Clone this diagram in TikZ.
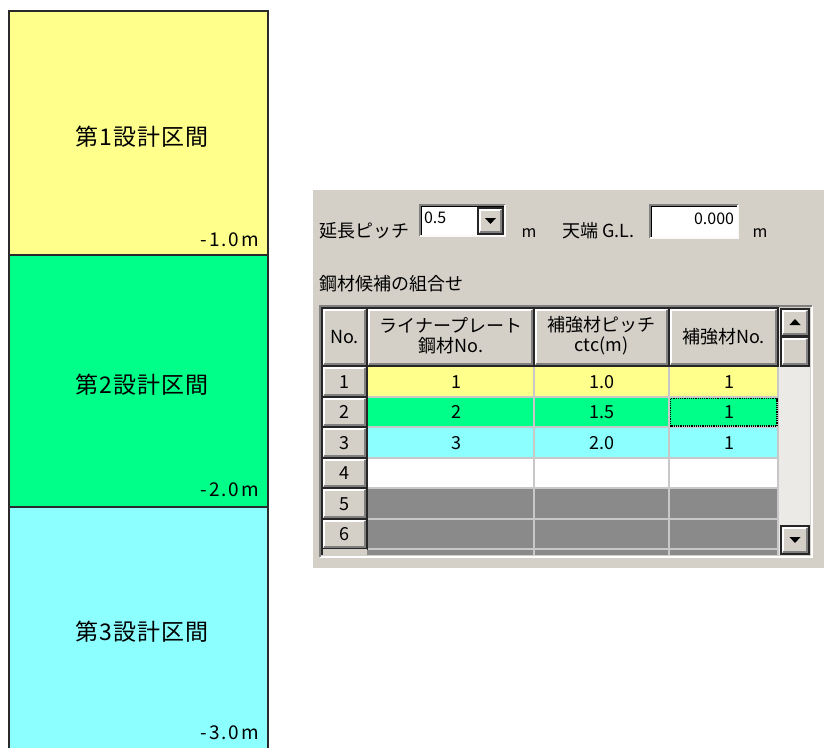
\documentclass[tikz,border=0pt]{standalone}
\usepackage{fontspec}
\setmainfont{Noto Sans CJK JP}
\definecolor{panel}{HTML}{D4D0C8}
\definecolor{yel}{HTML}{FFFF8C}
\definecolor{grn}{HTML}{00FF88}
\definecolor{cyn}{HTML}{8CFFFF}
\definecolor{dgray}{HTML}{8A8A8A}
\definecolor{gridc}{HTML}{C8C8C8}
\definecolor{track}{HTML}{ECEAE6}
\definecolor{colline}{HTML}{2A2A2A}
\newcommand{\uif}{\fontsize{18}{21}\selectfont}
\newcommand{\secf}{\fontsize{23}{26}\selectfont\addfontfeatures{LetterSpace=4}}
\newcommand{\depf}{\fontsize{19}{21}\selectfont\addfontfeatures{LetterSpace=10}}
\newcommand{\mybtn}[4]{%
  \fill[panel] (#1,#2) rectangle (#3,#4);
  \draw[white, line width=1.5] (#1+2,#4-2) -- (#1+2,#2+2) -- (#3-2,#2+2);
  \draw[gray, line width=1.2] (#1+2,#4-2) -- (#3-2,#4-2) -- (#3-2,#2+2);
  \draw[black!85, line width=1.3] (#1,#2) rectangle (#3,#4);
}
\begin{document}
\begin{tikzpicture}[x=1pt,y=-1pt, every node/.style={inner sep=0pt, outer sep=0pt}]
\useasboundingbox (0,0) rectangle (824,747);
\fill[white] (0,0) rectangle (824,747);
% ---------- left column ----------
\fill[yel] (9,11) rectangle (268,255);
\fill[grn] (9,255) rectangle (268,507);
\fill[cyn] (9,507) rectangle (268,748);
\draw[colline, line width=1.5] (9,749) -- (9,11) -- (268,11) -- (268,749);
\draw[colline, line width=1.5] (9,255) -- (268,255);
\draw[colline, line width=1.5] (9,507) -- (268,507);
\node[font=\secf] (s1) at (142,137) {第1設計区間};
\node[font=\secf] (s2) at (142,385) {第2設計区間};
\node[font=\secf] (s3) at (142,632) {第3設計区間};
\node[font=\depf, anchor=east] (d1) at (259,240) {-1.0m};
\node[font=\depf, anchor=east] (d2) at (259,490) {-2.0m};
\node[font=\depf, anchor=east] (d3) at (259,733) {-3.0m};
% ---------- panel ----------
\fill[panel] (313,190) rectangle (824,568);
% top controls
\node[font=\uif, anchor=west] (pitchlbl) at (319,231) {延長ピッチ};
\fill[white] (420,205) rectangle (505,236);
\draw[gray, line width=1.2] (420,236) -- (420,205) -- (505,205);
\draw[black, line width=1.2] (421.5,235) -- (421.5,206.5) -- (504,206.5);
\draw[white!90!panel, line width=1.2] (420,236) -- (505,236) -- (505,205);
\mybtn{478}{208}{503}{234}
\fill[black] (485,218) -- (496,218) -- (490.5,224) -- cycle;
\node[font=\fontsize{16}{18}\selectfont, anchor=west] (pitchval) at (424,218) {0.5};
\node[font=\fontsize{16}{18}\selectfont] (m1) at (529,233) {m};
\node[font=\uif, anchor=west] (gllbl) at (562,231) {天端 G.L.};
\fill[white] (650,205) rectangle (738,238);
\draw[gray, line width=1.2] (650,238) -- (650,205) -- (738,205);
\draw[black, line width=1.2] (651.5,237) -- (651.5,206.5) -- (737,206.5);
\draw[white!90!panel, line width=1.2] (650,238) -- (738,238) -- (738,205);
\node[font=\fontsize{16}{18}\selectfont, anchor=east] (glval) at (734,219) {0.000};
\node[font=\fontsize{16}{18}\selectfont] (m2) at (760,233) {m};
\node[font=\uif, anchor=west] (comblbl) at (319,284) {鋼材候補の組合せ};
% ---------- table ----------
\draw[white, line width=1.2] (812,306) -- (812,557) -- (320,557);
\draw[gray, line width=1.2] (320,557) -- (320,306) -- (812,306);
% scrollbar track
\fill[track] (779,308) rectangle (810,555);
% data rows
\fill[yel] (367,366) rectangle (778,397);
\fill[grn] (367,397) rectangle (778,427);
\fill[cyn] (367,427) rectangle (778,458);
\fill[white] (367,458) rectangle (778,488);
\fill[dgray] (367,488) rectangle (778,555);
\foreach \yy in {397,427,458,488,519,549}
  \draw[gridc, line width=1.5] (367,\yy) -- (778,\yy);
\foreach \xx in {534,669}
  \draw[gridc, line width=1.5] (\xx,366) -- (\xx,555);
\draw[gridc, line width=1.5] (778,366) -- (778,555);
% header buttons
\mybtn{322}{308}{367}{366}
\mybtn{367}{308}{534}{366}
\mybtn{534}{308}{669}{366}
\mybtn{669}{308}{778}{366}
\node[font=\uif] (hno) at (344.5,337) {No.};
\node[font=\uif, align=center] (hliner) at (451,336) {ライナープレート\\[-1pt]鋼材No.};
\node[font=\uif, align=center] (hpitch) at (601.5,336) {補強材ピッチ\\[-1pt]ctc(m)};
\node[font=\uif] (hstno) at (723.5,337) {補強材No.};
% row number buttons
\mybtn{322}{366}{367}{397}
\mybtn{322}{397}{367}{427}
\mybtn{322}{427}{367}{458}
\mybtn{322}{458}{367}{488}
\mybtn{322}{488}{367}{519}
\mybtn{322}{519}{367}{549}
\fill[panel] (322,549) rectangle (367,555);
\draw[black!85, line width=1.3] (322,549) -- (322,555);
\node[font=\uif] (r1) at (344,382) {1};
\node[font=\uif] (r2) at (344,412) {2};
\node[font=\uif] (r3) at (344,443) {3};
\node[font=\uif] (r4) at (344,473) {4};
\node[font=\uif] (r5) at (344,504) {5};
\node[font=\uif] (r6) at (344,534) {6};
% data values
\node[font=\uif] (c12) at (456,382) {1};
\node[font=\uif] (c13) at (602,382) {1.0};
\node[font=\uif] (c14) at (729,382) {1};
\node[font=\uif] (c22) at (456,412) {2};
\node[font=\uif] (c23) at (602,412) {1.5};
\node[font=\uif] (c24) at (729,412) {1};
\node[font=\uif] (c32) at (456,443) {3};
\node[font=\uif] (c33) at (602,443) {2.0};
\node[font=\uif] (c34) at (729,443) {1};
\draw[black, densely dotted, line width=1.2] (670.5,398.5) rectangle (777,426);
% scrollbar buttons
\mybtn{781}{309}{809}{336}
\mybtn{781}{337}{809}{366}
\mybtn{781}{526}{809}{554}
\fill[black] (789.5,325) -- (800.5,325) -- (795,319) -- cycle;
\fill[black] (789.5,537) -- (800.5,537) -- (795,543) -- cycle;
\end{tikzpicture}
\end{document}
